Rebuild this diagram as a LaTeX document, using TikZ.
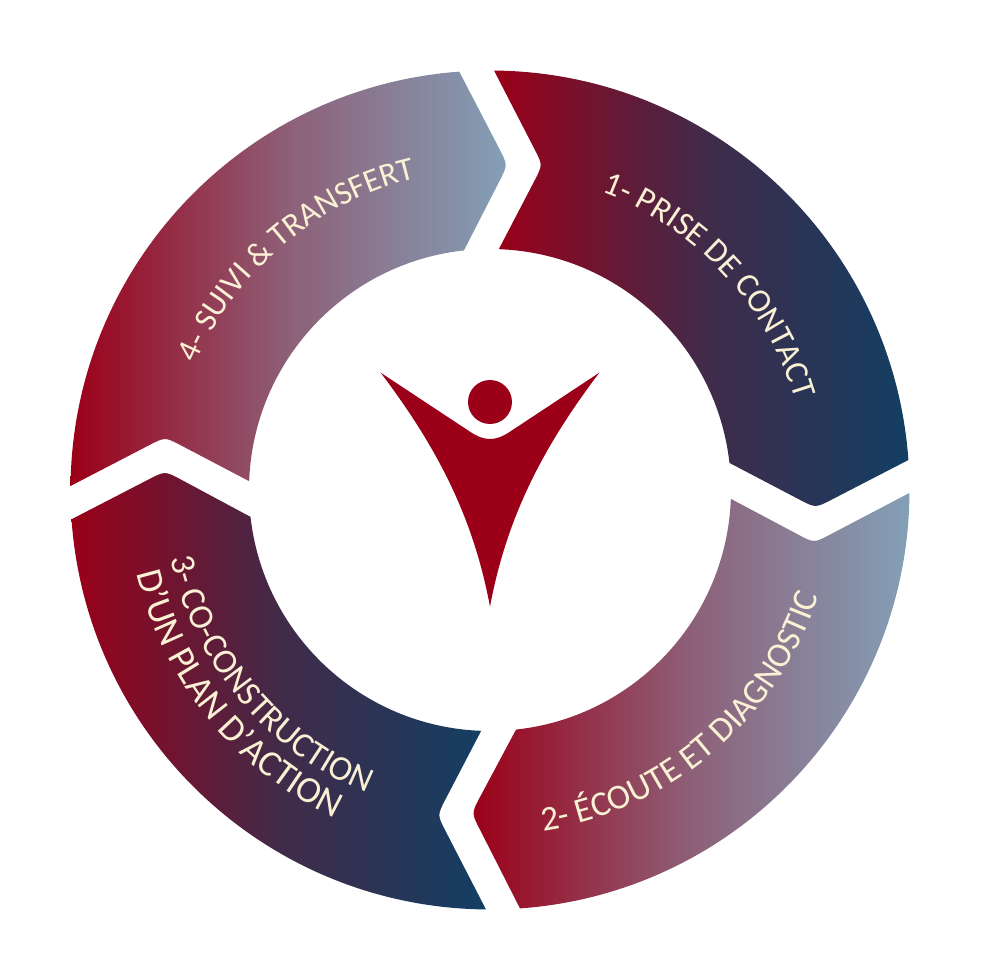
\documentclass[tikz,border=0pt]{standalone}
\usepackage{fontspec}
\setmainfont{Carlito}
\usetikzlibrary{calc,decorations.text}
\definecolor{deepred}{HTML}{9B0018}
\definecolor{plum}{HTML}{422A49}
\definecolor{navy}{HTML}{123F63}
\definecolor{mauve}{HTML}{8D6078}
\definecolor{steel}{HTML}{83A0B7}
\definecolor{cream}{HTML}{FAF0D4}
\tikzset{
  darkpart/.style={left color=deepred, right color=navy, middle color=plum},
  lightpart/.style={left color=deepred, right color=steel, middle color=mauve},
  steplabel/.style={decorate, decoration={text along path, text align=center,
    text={|\fontsize{#1}{#1}\selectfont\color{cream}|\steptext}}},
}
% style, angles extérieurs, pointe, angles intérieurs, pointe
\newcommand{\ringpart}[7]{%
  \shade[#1] (#2:419.5) arc[start angle=#2,end angle=#3,radius=419.5]
    -- ($(#4)!18pt!(#3:419.5)$) .. controls (#4) .. ($(#4)!18pt!(#5:241)$)
    -- (#5:241) arc[start angle=#5,end angle=#6,radius=241]
    -- ($(#7)!18pt!(#6:241)$) .. controls (#7) .. ($(#7)!18pt!(#2:419.5)$) -- cycle;}
\begin{document}
\begin{tikzpicture}[x=1pt,y=1pt]
  \useasboundingbox (-490,-490) rectangle (490,490);
  % les quatre parts de l'anneau
  \ringpart{darkpart}{89.45}{4.1}{325.5,-18}{6.45}{87.9}{52.7,325}
  \ringpart{lightpart}{-0.4}{-85.9}{-18.5,-323}{-83.8}{-2.1}{324,-53}
  \ringpart{darkpart}{-90.55}{-176}{-325,19}{-173.6}{-92.1}{-52.7,-325}
  \ringpart{lightpart}{179.45}{94.2}{17.7,325}{96.2}{177.9}{-325,53}
  % textes
  \def\steptext{1- PRISE DE CONTACT}
  \path[steplabel=33.5] (83:318) arc[start angle=83,end angle=3,radius=318];
  \def\steptext{2- ÉCOUTE ET DIAGNOSTIC}
  \path[steplabel=35] (-94.5:345) arc[start angle=-94.5,end angle=-4.5,radius=345];
  \def\steptext{3- CO-CONSTRUCTION}
  \path[steplabel=35] (-180:327) arc[start angle=-180,end angle=-100,radius=327];
  \def\steptext{D'UN PLAN D'ACTION}
  \path[steplabel=37] (-181:363) arc[start angle=-181,end angle=-101,radius=363];
  \def\steptext{4- SUIVI {\&} TRANSFERT}
  \path[steplabel=33] (170:320) arc[start angle=170,end angle=90,radius=320];
  % personnage
  \fill[deepred] (0,88) circle (22);
  \fill[deepred] (-109.3,117.3) .. controls (-53.3,43.3) and (-16.7,-26.7) .. (0,-116.7)
    .. controls (16.7,-26.7) and (53.3,43.3) .. (109.3,117.3)
    -- (20,58.3) .. controls (12,53) and (6,51) .. (0,51)
    .. controls (-6,51) and (-12,53) .. (-20,58.3) -- cycle;
\end{tikzpicture}
\end{document}
